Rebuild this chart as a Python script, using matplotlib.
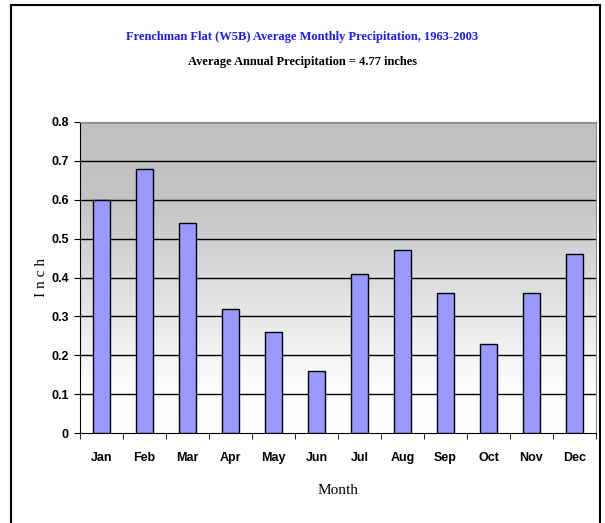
import numpy as np
import matplotlib
matplotlib.use("Agg")
import matplotlib.pyplot as plt
import matplotlib.patches as patches
from matplotlib.colors import LinearSegmentedColormap

months = ["Jan", "Feb", "Mar", "Apr", "May", "Jun",
          "Jul", "Aug", "Sep", "Oct", "Nov", "Dec"]
precip = [0.60, 0.68, 0.54, 0.32, 0.26, 0.16,
          0.41, 0.47, 0.36, 0.23, 0.36, 0.46]
yticks = [0, 0.1, 0.2, 0.3, 0.4, 0.5, 0.6, 0.7, 0.8]
ytick_labels = ["0", "0.1", "0.2", "0.3", "0.4", "0.5", "0.6", "0.7", "0.8"]

title = "Frenchman Flat (W5B) Average Monthly Precipitation, 1963-2003"
subtitle = "Average Annual Precipitation = 4.77 inches"

fig = plt.figure(figsize=(6.05, 5.23), dpi=100)
fig.patch.set_facecolor("white")

# marco exterior
fig.add_artist(patches.Rectangle((11 / 605, -0.05), 589 / 605, 1.05 - 5 / 523,
                                 transform=fig.transFigure, fill=False,
                                 edgecolor="black", linewidth=1.5))

ax = fig.add_axes([80 / 605, 1 - 433 / 523, 516 / 605, 311 / 523])

# fondo degradado gris -> blanco
cmap = LinearSegmentedColormap.from_list("bg", [(0.0, "#ffffff"), (0.15, "#fdfdfd"),
                                                (0.75, "#c4c4c4"), (1.0, "#c0c0c0")])
grad = np.linspace(0, 1, 256).reshape(-1, 1)
ax.imshow(grad, extent=(-0.5, 11.5, 0, 0.8), origin="lower", aspect="auto",
          cmap=cmap, zorder=0)

x = np.arange(len(months))
ax.bar(x, precip, width=0.4, color="#9999ff", edgecolor="black",
       linewidth=1.0, zorder=3)

ax.set_xlim(-0.5, 11.5)
ax.set_ylim(0, 0.8)
for y in yticks[1:]:
    ax.axhline(y, color="black", linewidth=1.0, zorder=2)

ax.set_yticks(yticks)
ax.set_yticklabels(ytick_labels)
ax.set_xticks(x)
ax.set_xticklabels(months)
ax.set_xticks(np.arange(-0.5, 12, 1), minor=True)
ax.tick_params(axis="x", which="major", length=0, pad=14)
ax.tick_params(axis="x", which="minor", length=4, direction="out", color="black")
ax.tick_params(axis="y", length=4, direction="out", pad=4)

for lbl in ax.get_xticklabels() + ax.get_yticklabels():
    lbl.set_fontfamily(["Liberation Sans Narrow", "Liberation Sans", "DejaVu Sans"])
    lbl.set_fontweight("bold")
    lbl.set_fontsize(9)

for side in ["top", "right"]:
    ax.spines[side].set_color("#909090")
ax.spines["left"].set_color("black")
ax.spines["bottom"].set_color("black")

serif = ["Liberation Serif", "DejaVu Serif"]
ax.set_ylabel("I n c h", family=serif, fontsize=11, labelpad=2)
ax.set_xlabel("Month", family=serif, fontsize=11, labelpad=14)

fig.text(0.5, 1 - 37 / 523, title, ha="center", va="center", color="#1a1aff",
         family=serif, weight="bold", fontsize=9)
fig.text(0.5, 1 - 62 / 523, subtitle, ha="center", va="center", color="black",
         family=serif, weight="bold", fontsize=9)

fig.savefig("out.png", dpi=100)
